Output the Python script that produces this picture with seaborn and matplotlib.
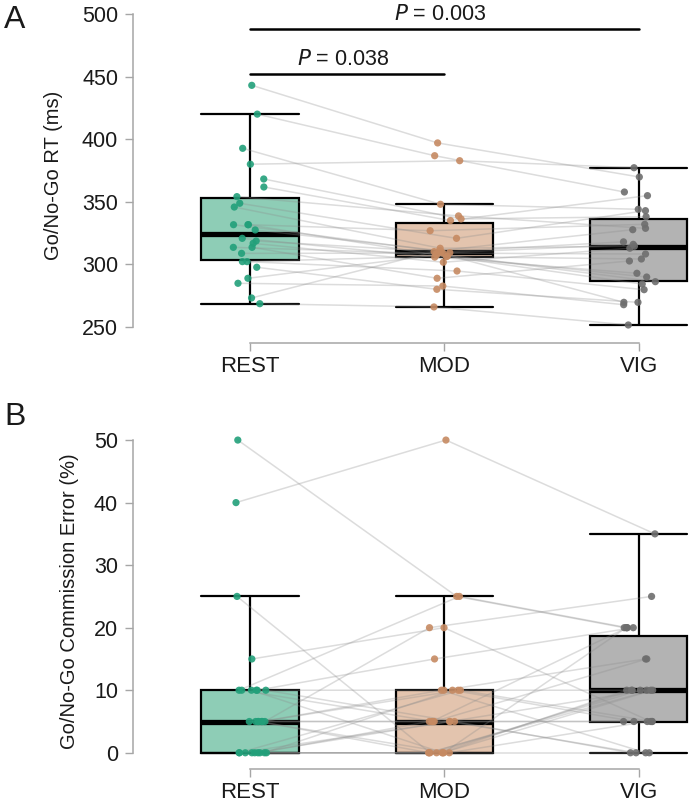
import numpy as np
import pandas as pd
import matplotlib
matplotlib.use('Agg')
import matplotlib.pyplot as plt
import seaborn as sns

conditions = ['REST', 'MOD', 'VIG']

# Panel A: Go/No-Go reaction time (ms), one entry per participant (same order in each list)
rt_rest = [443, 420, 392.7, 380, 368.2, 361.8, 354.1, 348.8, 345.8, 331.7, 331.7, 331.7, 327.5,
           320.8, 318.7, 316.8, 313.6, 313.6, 308.8, 302.2, 302.2, 297.7, 288.9, 284.9, 273.2, 268.6]
rt_mod = [397, 386.8, 348, 382.8, 336.3, 335.0, 338.7, 320.8, 312.9, 326.9, 309.4, 306.2, 311.0,
          305.8, 310.0, 301.7, 308.5, 288.9, 309.0, 294.7, 306.6, 280.1, 307.5, 282.7, 310.2, 266.0]
rt_vig = [369.8, 357.8, 344, 377.2, 338.1, 354.9, 328.8, 342.9, 314.5, 332, 316, 304.3, 327.7,
          292.9, 318, 312.9, 286.2, 302.7, 308.3, 279.8, 289.9, 269.7, 284.3, 267.8, 269.7, 251.6]

# Panel B: Go/No-Go commission error (%)
err_rest = [50, 40, 25, 15, 10, 10, 10, 10, 10, 10, 5, 5, 5, 5, 5, 5, 5, 0, 0, 0, 0, 0, 0, 0, 0, 0]
err_mod = [25, 50, 0, 20, 25, 5, 10, 0, 15, 5, 20, 10, 0, 5, 10, 0, 5, 10, 5, 0, 0, 5, 10, 0, 5, 0]
err_vig = [20, 35, 10, 5, 20, 0, 15, 10, 20, 5, 25, 10, 5, 20, 0, 10, 15, 5, 10, 20, 10, 0, 5, 10, 5, 0]

# pairwise comparisons shown in panel A: (from, to, p value)
comparisons = [(0, 1, 0.038), (0, 2, 0.003)]

box_colors = ['#8ecdb6', '#e3c4ae', '#b3b3b3']
dot_colors = ['#22a07a', '#c68a62', '#6e6e6e']

sns.set_style('ticks')
plt.rcParams['font.family'] = ['Liberation Sans', 'DejaVu Sans']


def long_form(rest, mod, vig):
    n = len(rest)
    return pd.DataFrame({
        'subject': list(range(n)) * 3,
        'condition': ['REST'] * n + ['MOD'] * n + ['VIG'] * n,
        'value': list(rest) + list(mod) + list(vig),
    })


def draw_panel(ax, df, ylim, yticks, ylabel, label_x):
    sns.boxplot(data=df, x='condition', y='value', hue='condition', order=conditions,
                hue_order=conditions, palette=box_colors, saturation=1, width=0.5,
                showfliers=False, linecolor='black', linewidth=1.6, capwidths=0.5,
                medianprops={'linewidth': 3.8}, legend=False, ax=ax)
    n_before = len(ax.collections)
    sns.stripplot(data=df, x='condition', y='value', hue='condition', order=conditions,
                  hue_order=conditions, palette=dot_colors, jitter=0.09, size=5.2,
                  alpha=0.9, linewidth=0, legend=False, ax=ax, zorder=4)

    # connect each participant's points across conditions
    n = df['subject'].nunique()
    groups = [c.get_offsets() for c in ax.collections[n_before:] if len(c.get_offsets()) == n]
    groups = sorted(groups, key=lambda o: np.mean(o[:, 0]))
    for i in range(n):
        xs = [g[i, 0] for g in groups]
        ys = [g[i, 1] for g in groups]
        ax.plot(xs, ys, color='#8c8c8c', alpha=0.3, lw=1.1, zorder=3)

    ax.set_xlim(-0.6, 2.28)
    ax.set_ylim(*ylim)
    ax.set_yticks(yticks)
    ax.set_xlabel('')
    ax.set_ylabel(ylabel, fontsize=14.5, color='#1a1a1a')
    ax.yaxis.set_label_coords(label_x, 0.5)
    sns.despine(ax=ax)
    for side in ['left', 'bottom']:
        ax.spines[side].set_color('#a6a6a6')
        ax.spines[side].set_linewidth(1.1)
    ax.spines['left'].set_bounds(yticks[0], yticks[-1])
    ax.spines['bottom'].set_bounds(0, 2)
    ax.tick_params(axis='y', length=6, width=1, color='#a6a6a6', pad=5,
                   labelsize=15.5, labelcolor='#1a1a1a')
    ax.tick_params(axis='x', length=6, width=1, color='#a6a6a6', pad=3,
                   labelsize=16, labelcolor='#1a1a1a')


fig = plt.figure(figsize=(6.93, 8.02), dpi=100)
ax_a = fig.add_axes([0.1924, 0.5723, 0.808, 0.4181])
ax_b = fig.add_axes([0.1924, 0.0411, 0.808, 0.418])

np.random.seed(3)
draw_panel(ax_a, long_form(rt_rest, rt_mod, rt_vig), (237.2, 505),
           [250, 300, 350, 400, 450, 500], 'Go/No-Go RT (ms)', -0.125)
draw_panel(ax_b, long_form(err_rest, err_mod, err_vig), (-2.6, 51),
           [0, 10, 20, 30, 40, 50], 'Go/No-Go Commission Error (%)', -0.097)

# significance bars
bar_y = [451.8, 488]
for (a, b, p), y in zip(comparisons, bar_y):
    ax_a.plot([a, b], [y, y], color='black', lw=1.8, clip_on=False, zorder=5)
    ax_a.text((a + b) / 2 - 0.02, y + 3.5, f'$\\it{{P}}$ = {p:.3f}', ha='center', va='bottom',
              fontsize=15.5, color='#1a1a1a', clip_on=False)

fig.text(0.006, 1 - 20 / 802, 'A', fontsize=23, ha='left', va='center', color='#1a1a1a')
fig.text(0.006, 1 - 417 / 802, 'B', fontsize=23, ha='left', va='center', color='#1a1a1a')

fig.savefig('out.png', dpi=100)
